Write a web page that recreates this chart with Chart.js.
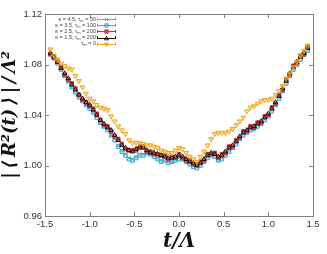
<!DOCTYPE html>
<html><head><meta charset="utf-8">
<script src="https://cdn.jsdelivr.net/npm/chart.js@4.4.1/dist/chart.umd.min.js"></script>
<style>html,body{margin:0;padding:0;background:#fff}#wrap{width:327px;height:254px}</style>
</head><body><div id="wrap"><canvas id="c" width="327" height="254"></canvas></div>
<script>
const tValues = [-1.44,-1.40,-1.36,-1.32,-1.28,-1.24,-1.20,-1.16,-1.12,-1.08,-1.04,-1.00,-0.96,-0.92,-0.88,-0.84,-0.80,-0.76,-0.72,-0.68,-0.64,-0.60,-0.56,-0.52,-0.48,-0.44,-0.40,-0.36,-0.32,-0.28,-0.24,-0.20,-0.16,-0.12,-0.08,-0.04,0.00,0.04,0.08,0.12,0.16,0.20,0.24,0.28,0.32,0.36,0.40,0.44,0.48,0.52,0.56,0.60,0.64,0.68,0.72,0.76,0.80,0.84,0.88,0.92,0.96,1.00,1.04,1.08,1.12,1.16,1.20,1.24,1.28,1.32,1.36,1.40,1.44];
const seriesK45 = [null,1.087,1.082,1.077,1.071,1.066,1.062,1.059,1.054,1.052,1.048,1.046,1.042,1.039,1.034,1.031,1.029,1.024,1.021,1.016,1.012,1.009,1.006,1.005,1.007,1.009,1.009,1.011,1.009,1.008,1.006,1.004,1.004,1.003,1.003,1.005,1.006,1.005,1.004,1.002,1.000,0.999,1.001,1.004,1.007,1.009,1.008,1.005,1.006,1.009,1.012,1.015,1.018,1.022,1.025,1.027,1.029,1.030,1.032,1.034,1.037,1.040,1.044,1.049,1.054,1.060,1.066,1.072,1.077,1.081,1.085,1.089,1.092];
const seriesK35 = [null,1.086,1.081,1.076,1.071,1.067,1.062,1.058,1.054,1.051,1.048,1.045,1.042,1.038,1.034,1.031,1.028,1.024,1.020,1.015,1.011,1.008,1.005,1.004,1.006,1.008,1.008,1.010,1.009,1.007,1.005,1.003,1.004,1.002,1.003,1.004,1.005,1.005,1.003,1.001,0.999,0.998,1.000,1.003,1.006,1.008,1.007,1.004,1.005,1.008,1.011,1.014,1.017,1.021,1.024,1.026,1.028,1.029,1.031,1.033,1.036,1.039,1.043,1.048,1.053,1.059,1.065,1.071,1.076,1.080,1.084,1.088,1.091];
const seriesK25 = [1.088,1.085,1.082,1.078,1.072,1.068,1.065,1.061,1.056,1.052,1.050,1.047,1.045,1.041,1.036,1.032,1.031,1.027,1.023,1.021,1.017,1.013,1.012,1.012,1.012,1.014,1.015,1.011,1.011,1.009,1.009,1.008,1.008,1.005,1.007,1.006,1.009,1.006,1.004,1.004,1.001,1.001,1.003,1.004,1.009,1.009,1.010,1.006,1.009,1.010,1.015,1.015,1.020,1.022,1.027,1.027,1.031,1.030,1.034,1.034,1.039,1.040,1.046,1.049,1.056,1.060,1.068,1.072,1.079,1.081,1.087,1.088,1.094];
const seriesK15 = [1.089,1.086,1.082,1.077,1.073,1.069,1.064,1.060,1.056,1.053,1.050,1.048,1.044,1.040,1.036,1.033,1.030,1.028,1.024,1.020,1.016,1.014,1.012,1.011,1.013,1.015,1.014,1.012,1.010,1.010,1.009,1.008,1.007,1.006,1.006,1.007,1.008,1.007,1.005,1.003,1.002,1.000,1.002,1.005,1.008,1.010,1.009,1.007,1.008,1.011,1.014,1.016,1.019,1.023,1.026,1.028,1.030,1.031,1.033,1.035,1.038,1.041,1.045,1.050,1.055,1.061,1.067,1.073,1.078,1.082,1.086,1.089,1.093];
const seriesTau0 = [1.092,1.087,1.084,1.081,1.079,1.077,1.076,1.071,1.067,1.062,1.057,1.053,1.051,1.048,1.046,1.045,1.044,1.039,1.035,1.031,1.028,1.025,1.020,1.018,1.018,1.018,1.017,1.016,1.016,1.015,1.014,1.012,1.011,1.010,1.010,1.012,1.014,1.013,1.010,1.007,1.005,1.003,1.007,1.011,1.016,1.021,1.025,1.026,1.026,1.026,1.027,1.029,1.032,1.035,1.038,1.043,1.046,1.047,1.049,1.051,1.052,1.052,1.053,1.056,1.059,1.063,1.069,1.073,1.078,1.082,1.087,1.091,1.095];
const xTicks = [-1.5,-1.0,-0.5,0.0,0.5,1.0,1.5];
const yTicks = [0.96,1.00,1.04,1.08,1.12];
const legendLabels = [["κ = 4.5, τ","m"," = 50"],["κ = 3.5, τ","m"," = 100"],["κ = 2.5, τ","m"," = 200"],["κ = 1.5, τ","m"," = 200"],["τ","m"," = 0"]];

function pts(arr){ return tValues.map((t,i)=>({x:t,y:arr[i]})); }

const styles = [
  {color:'#3cc49e', bg:'rgba(60,196,158,0.35)', ps:'crossRot', rot:0, r:2.6, order:5},
  {color:'#3fa8dc', bg:'rgba(63,168,220,0.35)', ps:'rect', rot:0, r:2.6, order:4},
  {color:'#c83030', bg:'rgba(232,72,72,0.9)', ps:'rect', rot:0, r:2.5, order:3},
  {color:'#111111', bg:'rgba(0,0,0,0)', ps:'triangle', rot:0, r:2.6, order:2},
  {color:'#f0a418', bg:'rgba(246,184,50,0.45)', ps:'triangle', rot:180, r:2.8, order:1}
];
const allSeries = [seriesK45, seriesK35, seriesK25, seriesK15, seriesTau0];

const datasets = allSeries.map((s,i)=>({
  data: pts(s), showLine:false, order: styles[i].order,
  pointStyle: styles[i].ps, rotation: styles[i].rot, pointRadius: styles[i].r,
  borderColor: styles[i].color, backgroundColor: styles[i].bg, pointBorderWidth: 1
}));

function drawMarker(ctx, st, x, y){
  ctx.save();
  ctx.strokeStyle = st.color; ctx.fillStyle = st.bg; ctx.lineWidth = 1;
  const r = 2.2;
  ctx.beginPath();
  if (st.ps === 'rect'){ ctx.rect(x-r*0.75,y-r*0.75,r*1.5,r*1.5); ctx.fill(); ctx.stroke(); }
  else if (st.ps === 'triangle'){
    const d = st.rot===180 ? -1 : 1;
    ctx.moveTo(x, y - d*r); ctx.lineTo(x - r*0.9, y + d*r*0.6); ctx.lineTo(x + r*0.9, y + d*r*0.6); ctx.closePath(); ctx.fill(); ctx.stroke();
  } else { ctx.moveTo(x-r*0.7,y-r*0.7); ctx.lineTo(x+r*0.7,y+r*0.7); ctx.moveTo(x+r*0.7,y-r*0.7); ctx.lineTo(x-r*0.7,y+r*0.7); ctx.stroke(); }
  ctx.restore();
}

const framePlugin = {
  id:'frame',
  afterDatasetsDraw(chart){
    const {ctx, chartArea:a, scales} = chart;
    ctx.save();
    ctx.strokeStyle = '#808080'; ctx.lineWidth = 1;
    ctx.strokeRect(Math.round(a.left)+0.5, Math.round(a.top)+0.5, Math.round(a.right-a.left), Math.round(a.bottom-a.top));
    ctx.beginPath();
    xTicks.forEach(v=>{ const x = Math.round(scales.x.getPixelForValue(v))+0.5;
      ctx.moveTo(x,a.bottom); ctx.lineTo(x,a.bottom-4); ctx.moveTo(x,a.top); ctx.lineTo(x,a.top+4); });
    yTicks.forEach(v=>{ const y = Math.round(scales.y.getPixelForValue(v))+0.5;
      ctx.moveTo(a.left,y); ctx.lineTo(a.left+4,y); ctx.moveTo(a.right,y); ctx.lineTo(a.right-4,y); });
    ctx.stroke();
    // legend
    const xr = 96, x0 = 97, x1 = 116;
    legendLabels.forEach((lab,i)=>{
      const y = 19 + i*6.2;
      ctx.font = '5.5px "Liberation Sans", Arial, sans-serif';
      ctx.fillStyle = '#444'; ctx.textBaseline = 'middle'; ctx.textAlign = 'left';
      const w0 = ctx.measureText(lab[0]).width, w2 = ctx.measureText(lab[2]).width;
      ctx.font = '4px "Liberation Sans", Arial, sans-serif';
      const w1 = ctx.measureText(lab[1]).width;
      let x = xr - (w0+w1+w2);
      ctx.font = '5.5px "Liberation Sans", Arial, sans-serif';
      ctx.fillText(lab[0], x, y); x += w0;
      ctx.font = '4px "Liberation Sans", Arial, sans-serif';
      ctx.fillText(lab[1], x, y+1.5); x += w1;
      ctx.font = '5.5px "Liberation Sans", Arial, sans-serif';
      ctx.fillText(lab[2], x, y);
      const st = styles[i];
      ctx.strokeStyle = st.color; ctx.lineWidth = 1;
      ctx.beginPath(); ctx.moveTo(x0, Math.round(y)+0.5); ctx.lineTo(x1, Math.round(y)+0.5); ctx.stroke();
      ctx.beginPath(); ctx.moveTo(x0+0.5, y-1.5); ctx.lineTo(x0+0.5, y+1.5); ctx.moveTo(x1-0.5, y-1.5); ctx.lineTo(x1-0.5, y+1.5); ctx.stroke();
      drawMarker(ctx, st, (x0+x1)/2, Math.round(y)+0.5);
    });
    ctx.restore();
  }
};

new Chart(document.getElementById('c'), {
  type:'scatter',
  data:{ datasets },
  options:{
    responsive:false, animation:false, devicePixelRatio:1,
    layout:{ padding:{ top:14, right:14, left:0, bottom:0 } },
    plugins:{ legend:{display:false}, tooltip:{enabled:false} },
    scales:{
      x:{ type:'linear', min:-1.5, max:1.5,
        afterBuildTicks(s){ s.ticks = xTicks.map(v=>({value:v})); },
        afterFit(s){ s.height = 38; },
        grid:{ display:false, drawTicks:false }, border:{ display:false },
        ticks:{ padding:3, color:'#333', font:{ family:'"Liberation Sans", Arial, sans-serif', size:9.5 }, callback:v=>Number(v).toFixed(1), maxRotation:0, autoSkip:false },
        title:{ display:true, text:'t/Λ', padding:{top:0,bottom:0}, color:'#111', font:{ family:'"DejaVu Serif", serif', size:20, weight:'bold', style:'italic' } }
      },
      y:{ type:'linear', min:0.96, max:1.12,
        afterBuildTicks(s){ s.ticks = yTicks.map(v=>({value:v})); },
        afterFit(s){ s.width = 45; },
        grid:{ display:false, drawTicks:false }, border:{ display:false },
        ticks:{ padding:3, color:'#333', font:{ family:'"Liberation Sans", Arial, sans-serif', size:9.5 }, callback:v=>Number(v).toFixed(2), autoSkip:false },
        title:{ display:true, text:'|\u2009⟨\u2009R²(t)\u2009⟩\u2009|\u2009/\u2009Λ²', padding:{top:0,bottom:0}, color:'#111', font:{ family:'"DejaVu Serif", serif', size:18, weight:'bold', style:'italic' } }
      }
    }
  },
  plugins:[framePlugin]
});
</script></body></html>
